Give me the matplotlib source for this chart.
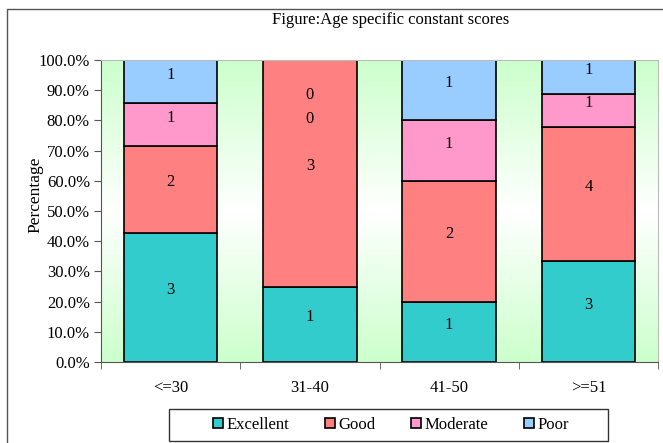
import numpy as np
import matplotlib.pyplot as plt
from matplotlib.colors import LinearSegmentedColormap
from matplotlib.patches import Rectangle

plt.rcParams['font.family'] = ['Liberation Serif', 'DejaVu Serif']

# counts per age group
groups = ['<=30', '31-40', '41-50', '>=51']
series = ['Excellent', 'Good', 'Moderate', 'Poor']
excellent = [3, 1, 1, 3]
good = [2, 3, 2, 4]
moderate = [1, 0, 1, 1]
poor = [1, 0, 1, 1]
colors = ['#33CCCC', '#FF8080', '#FF99CC', '#99CCFF']

counts = np.array([excellent, good, moderate, poor], dtype=float)
pct = counts / counts.sum(axis=0) * 100

W, H = 663, 443
fig = plt.figure(figsize=(W / 100, H / 100), dpi=100)
ax = fig.add_axes([101 / W, 1 - 362 / H, 557 / W, 302 / H])

# outer chart border
fig.patches.append(Rectangle((7 / W, -0.05), 1.2, 1.05 - 9 / H,
                             transform=fig.transFigure, fill=False,
                             edgecolor='#555555', linewidth=1.0))

# green-white-green gradient in the plot area
grad = LinearSegmentedColormap.from_list('g', ['#CCFFCC', '#FFFFFF', '#CCFFCC'])
ax.imshow(np.linspace(0, 1, 256).reshape(-1, 1), cmap=grad, aspect='auto',
          extent=[-0.5, len(groups) - 0.5, 0, 100], origin='lower', zorder=0)

x = np.arange(len(groups))
bottom = np.zeros(len(groups))
nzero = np.zeros(len(groups), dtype=int)
for i, name in enumerate(series):
    ax.bar(x, pct[i], 0.67, bottom=bottom, color=colors[i], edgecolor='black',
           linewidth=1.2, label=name, zorder=2)
    for j in range(len(groups)):
        if counts[i, j] > 0:
            yc = bottom[j] + pct[i, j] / 2
        else:
            # zero-size segments get their labels stacked under the top
            yc = 86 - 8 * nzero[j]
            nzero[j] += 1
        ax.annotate('%d' % counts[i, j], (x[j], yc), xytext=(0, 5),
                    textcoords='offset points', ha='center', va='center',
                    fontsize=12, zorder=3)
    bottom += pct[i]

ax.set_xlim(-0.5, len(groups) - 0.5)
ax.set_ylim(0, 100)
ax.set_yticks(np.arange(0, 101, 10))
ax.set_yticklabels(['%.1f%%' % v for v in np.arange(0, 101, 10)], fontsize=12)
ax.set_xticks(x)
ax.set_xticklabels(groups, fontsize=12)
ax.set_xticks(np.arange(-0.5, len(groups)), minor=True)
ax.tick_params(axis='x', which='major', length=0, pad=13)
ax.tick_params(axis='x', which='minor', length=5, color='#555555')
ax.tick_params(axis='y', length=5, color='#555555', pad=3)
for s in ['top', 'right']:
    ax.spines[s].set_color('#BBBBBB')
for s in ['left', 'bottom']:
    ax.spines[s].set_color('#555555')
ax.set_ylabel('Percentage', fontsize=12.5)
ax.yaxis.set_label_coords(-0.103, 0.553)

fig.text(391 / W, 1 - 20 / H, 'Figure:Age specific constant scores',
         ha='center', va='center', fontsize=12)

# legend box drawn separately for its wide side padding
fig.patches.append(Rectangle((169 / W, 1 - 441 / H), 439 / W, 32 / H,
                             transform=fig.transFigure, fill=False,
                             edgecolor='#333333', linewidth=1.0))
leg = fig.legend(loc='center', bbox_to_anchor=(391 / W, 1 - 425 / H), ncol=4,
                 prop={'family': ['Liberation Serif'], 'size': 12},
                 frameon=False, handlelength=0.6, handleheight=0.6,
                 handletextpad=0.25, columnspacing=2.1, borderpad=0.2)

fig.savefig('out.png', dpi=100)
